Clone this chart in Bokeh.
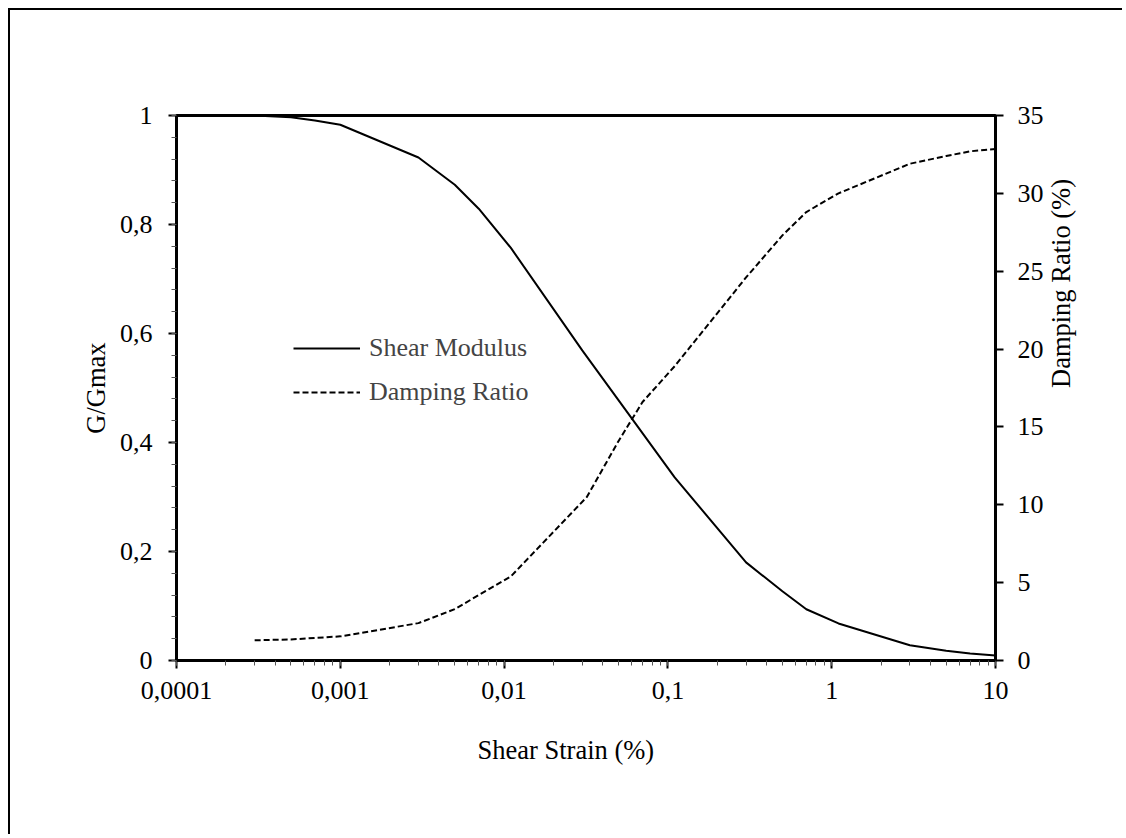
import math
from bokeh.plotting import figure
from bokeh.models import (LinearAxis, Range1d, LogTicker, SingleIntervalTicker,
                          CustomJSTickFormatter, Legend, LegendItem, Title,
                          FixedTicker)
from bokeh.embed import file_html
from bokeh.resources import INLINE

# Data
strain_g = [0.0001, 0.0003, 0.0005, 0.0007, 0.001, 0.003, 0.005, 0.007, 0.011,
            0.03, 0.11, 0.3, 0.5, 0.7, 1.1, 3, 5, 7, 10]
g_gmax = [1.0, 1.0, 0.997, 0.991, 0.983, 0.923, 0.873, 0.829, 0.757,
          0.569, 0.336, 0.18, 0.127, 0.094, 0.068, 0.028, 0.018, 0.013, 0.009]

strain_d = [0.0003, 0.0005, 0.0007, 0.001, 0.003, 0.005, 0.007, 0.011, 0.032,
            0.05, 0.07, 0.11, 0.3, 0.5, 0.7, 1.1, 3, 5, 7, 10]
damping = [1.3, 1.35, 1.45, 1.55, 2.4, 3.3, 4.2, 5.4, 10.5,
           14.1, 16.6, 18.9, 24.6, 27.3, 28.8, 30.0, 31.9, 32.4, 32.7, 32.85]

series_names = ["Shear Modulus", "Damping Ratio"]
axis_titles = ["Shear Strain (%)", "G/Gmax", "Damping Ratio (%)"]

FONT = "Liberation Serif"

p = figure(width=1114, height=826, x_axis_type="log",
           x_range=Range1d(0.0001, 10), y_range=Range1d(0, 1),
           output_backend="svg", toolbar_location=None,
           min_border_left=166, min_border_right=129,
           min_border_top=105, min_border_bottom=176)
p.styles = {"border-left": "2px solid black", "border-top": "2px solid black",
            "margin-left": "8px", "margin-top": "8px"}
p.extra_y_ranges = {"damp": Range1d(0, 35)}

p.grid.visible = False
p.outline_line_color = "black"
p.outline_line_width = 3
p.background_fill_color = "white"
p.border_fill_color = "white"

r1 = p.line(strain_g, g_gmax, line_color="black", line_width=2)
r2 = p.line(strain_d, damping, y_range_name="damp", line_color="black",
            line_width=2, line_dash="6 3")

xa = p.xaxis[0]
xa.ticker = LogTicker(num_minor_ticks=10)
xa.formatter = CustomJSTickFormatter(code="""
    return tick.toString().replace('.', ',');
""")

ya = p.yaxis[0]
ya.ticker = SingleIntervalTicker(interval=0.2, num_minor_ticks=5)
ya.formatter = CustomJSTickFormatter(code="""
    return Number(tick.toFixed(2)).toString().replace('.', ',');
""")
ya.axis_label = axis_titles[1]

ra = LinearAxis(y_range_name="damp",
                ticker=SingleIntervalTicker(interval=5, num_minor_ticks=0))
p.add_layout(ra, "right")

for ax in [xa, ya, ra]:
    ax.axis_line_color = "black"
    ax.axis_line_width = 3
    ax.major_tick_line_color = "black"
    ax.major_tick_line_width = 2
    ax.major_tick_in = 0
    ax.major_tick_out = 8
    ax.minor_tick_line_color = "#555555"
    ax.minor_tick_line_width = 1
    ax.minor_tick_in = 0
    ax.minor_tick_out = 5
    ax.major_label_text_font = FONT
    ax.major_label_text_font_size = "26px"
    ax.major_label_text_color = "black"
    ax.axis_label_text_font = FONT
    ax.axis_label_text_font_size = "26.5px"
    ax.axis_label_text_font_style = "normal"
    ax.axis_label_text_color = "black"

xa.major_label_standoff = 13
ya.major_label_standoff = 16
ya.axis_label_standoff = 6
ra.major_label_standoff = 14

# title-only axis for the damping ratio (reads bottom to top as in the original)
ta = LinearAxis(y_range_name="damp", axis_label=axis_titles[2],
                ticker=FixedTicker(ticks=[]),
                axis_line_color=None, major_tick_line_color=None,
                minor_tick_line_color=None)
ta.axis_label_orientation = math.pi / 2
ta.axis_label_text_font = FONT
ta.axis_label_text_font_size = "26.5px"
ta.axis_label_text_font_style = "normal"
ta.axis_label_text_color = "black"
ta.axis_label_standoff = 14
p.add_layout(ta, "right")

p.add_layout(Title(text=axis_titles[0], align="left", offset=301,
                   text_font=FONT, text_font_size="26.5px",
                   text_font_style="normal", text_color="black",
                   standoff=62), "below")

legend = Legend(items=[LegendItem(label=series_names[0], renderers=[r1]),
                       LegendItem(label=series_names[1], renderers=[r2])],
                location=(117, 253), border_line_color=None,
                background_fill_alpha=0, padding=0, margin=0,
                glyph_width=67, glyph_height=30, label_height=30,
                spacing=14, label_standoff=9,
                label_text_font=FONT, label_text_font_size="26px")
p.add_layout(legend)

open("out.html", "w").write(file_html(p, INLINE))
